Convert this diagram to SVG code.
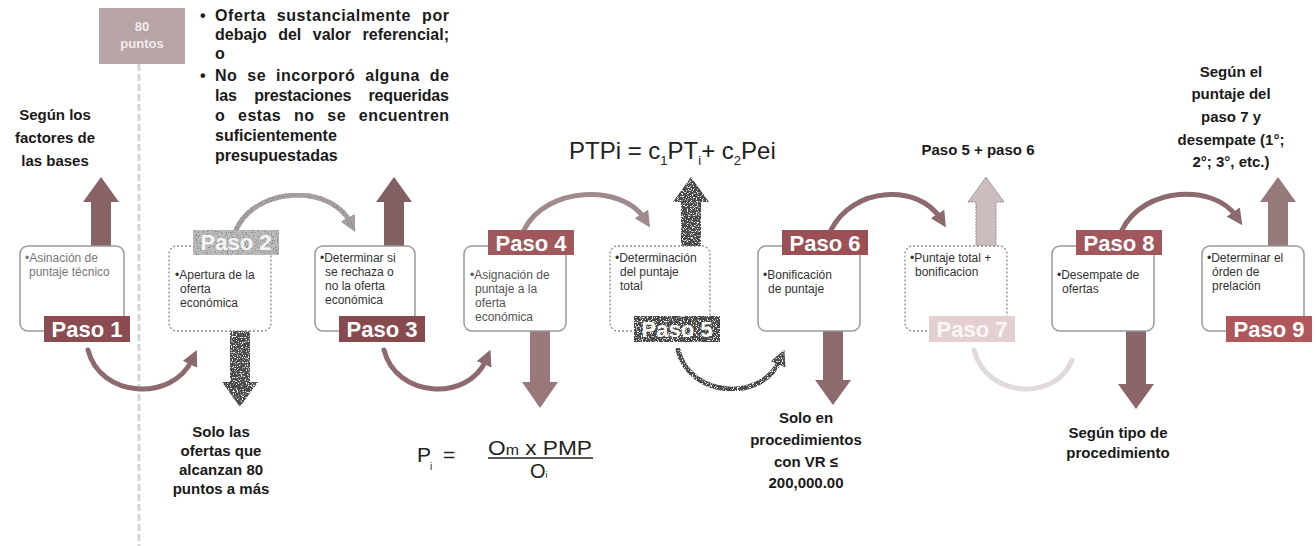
<svg xmlns="http://www.w3.org/2000/svg" width="1316" height="546" viewBox="0 0 1316 546">
<style>
text{font-family:"Liberation Sans",Arial,sans-serif}
.b{font-weight:bold;fill:#1a1a1a}
.t15{font-size:15px;font-weight:bold;fill:#1a1a1a;text-anchor:middle}
.bt{font-size:12px;fill:#333}
.box{fill:#fff;stroke:#9a9a9a;stroke-width:1.5}
.dbox{fill:#fff;stroke:#8a8a8a;stroke-width:1.3;stroke-dasharray:2 2}
.lbl{font-size:22px;font-weight:bold;fill:#fff;text-anchor:middle}
.arc{fill:none;stroke-width:5;stroke-linecap:round}
</style>
<defs>
<marker id="mA" viewBox="0 0 10 10" refX="3" refY="5" markerWidth="3.2" markerHeight="3.2" orient="auto"><path d="M0,0 L10,5 L0,10 z" fill="#8c6a6d"/></marker>
<marker id="mL" viewBox="0 0 10 10" refX="3" refY="5" markerWidth="3.2" markerHeight="3.2" orient="auto"><path d="M0,0 L10,5 L0,10 z" fill="#a08a8c"/></marker>
<marker id="mD" viewBox="0 0 10 10" refX="3" refY="5" markerWidth="3.2" markerHeight="3.2" orient="auto"><path d="M0,0 L10,5 L0,10 z" fill="#4a4a4a"/></marker>
<marker id="mP" viewBox="0 0 10 10" refX="3" refY="5" markerWidth="3.2" markerHeight="3.2" orient="auto"><path d="M0,0 L10,5 L0,10 z" fill="#a8a0a0"/></marker>
<filter id="lightSpeck" x="-5%" y="-5%" width="110%" height="110%">
<feTurbulence type="fractalNoise" baseFrequency="0.8" numOctaves="2" seed="5" result="n"/>
<feColorMatrix in="n" type="matrix" values="0 0 0 0 1  0 0 0 0 1  0 0 0 0 1  0 0 0 7 -3.9" result="s"/>
<feComposite in="s" in2="SourceGraphic" operator="in" result="sp"/>
<feMerge><feMergeNode in="SourceGraphic"/><feMergeNode in="sp"/></feMerge>
</filter>
<filter id="darkSpeck" x="-5%" y="-5%" width="110%" height="110%">
<feTurbulence type="fractalNoise" baseFrequency="0.8" numOctaves="2" seed="9" result="n"/>
<feColorMatrix in="n" type="matrix" values="0 0 0 0 0.25  0 0 0 0 0.25  0 0 0 0 0.25  0 0 0 7 -3.8" result="s"/>
<feComposite in="s" in2="SourceGraphic" operator="in" result="sp"/>
<feMerge><feMergeNode in="SourceGraphic"/><feMergeNode in="sp"/></feMerge>
</filter>
</defs>

<line x1="139" y1="64" x2="139" y2="546" stroke="#d6d6d6" stroke-width="3" stroke-dasharray="7 3"/>
<g id="puntos80">
<rect x="99" y="8" width="86" height="56" fill="#b7a4a6"/>
<text x="142" y="31" font-size="13" font-weight="bold" fill="#f2ecec" text-anchor="middle">80</text>
<text x="142" y="48" font-size="13" font-weight="bold" fill="#f2ecec" text-anchor="middle">puntos</text>
</g>

<g id="rechazo" class="b" font-size="16">
<text x="200" y="21">•</text>
<text x="215" y="21" word-spacing="6" textLength="234" lengthAdjust="spacing">Oferta sustancialmente por</text>
<text x="215" y="40" word-spacing="7" textLength="234" lengthAdjust="spacing">debajo del valor referencial;</text>
<text x="215" y="59">o</text>
<text x="200" y="81">•</text>
<text x="215" y="81" word-spacing="5" textLength="234" lengthAdjust="spacing">No se incorporó alguna de</text>
<text x="215" y="101" word-spacing="13" textLength="234" lengthAdjust="spacing">las prestaciones requeridas</text>
<text x="215" y="121" word-spacing="8" textLength="234" lengthAdjust="spacing">o estas no se encuentren</text>
<text x="215" y="141">suficientemente</text>
<text x="215" y="161">presupuestadas</text>
</g>

<g id="nota1">
<text class="t15" x="55" y="120">Según los</text>
<text class="t15" x="55" y="143">factores de</text>
<text class="t15" x="55" y="166">las bases</text>
</g>

<g id="formulaPTP">
<text x="569" y="159" font-size="24" fill="#222">PTPi = c<tspan font-size="13" dy="6">1</tspan><tspan dy="-6">PT</tspan><tspan font-size="13" dy="6">i</tspan><tspan dy="-6">+ c</tspan><tspan font-size="13" dy="6">2</tspan><tspan dy="-6">Pei</tspan></text>
</g>

<g id="nota7"><text class="t15" x="978" y="155">Paso 5 + paso 6</text></g>

<g id="nota9">
<text class="t15" x="1231" y="77">Según el</text>
<text class="t15" x="1231" y="99">puntaje del</text>
<text class="t15" x="1231" y="122">paso 7 y</text>
<text class="t15" x="1231" y="145">desempate (1°;</text>
<text class="t15" x="1231" y="167">2°; 3°, etc.)</text>
</g>

<g id="nota2">
<text class="t15" x="221" y="437">Solo las</text>
<text class="t15" x="221" y="456">ofertas que</text>
<text class="t15" x="221" y="475">alcanzan 80</text>
<text class="t15" x="221" y="494">puntos a más</text>
</g>

<g id="formulaP">
<text x="417" y="462" font-size="21" fill="#222">P</text>
<text x="430" y="470" font-size="10" fill="#222">i</text>
<text x="443" y="462" font-size="21" fill="#222">=</text>
<text x="488" y="455" font-size="20" fill="#222" textLength="104" lengthAdjust="spacingAndGlyphs">O<tspan font-size="14">m</tspan> x PMP</text>
<line x1="488" y1="458" x2="593" y2="458" stroke="#222" stroke-width="1.5"/>
<text x="530" y="478" font-size="20" fill="#222">O<tspan font-size="9">i</tspan></text>
</g>

<g id="nota6">
<text class="t15" x="806" y="423">Solo en</text>
<text class="t15" x="806" y="445">procedimientos</text>
<text class="t15" x="806" y="467">con VR ≤</text>
<text class="t15" x="806" y="488">200,000.00</text>
</g>

<g id="nota8">
<text class="t15" x="1118" y="438">Según tipo de</text>
<text class="t15" x="1118" y="458">procedimiento</text>
</g>

<g id="connectors">
<path d="M91,247 L91,202 L83,202 L101,177 L119,202 L111,202 L111,247 Z" fill="#876366"/>
<path d="M384,247 L384,202 L376,202 L394,177 L412,202 L404,202 L404,247 Z" fill="#806063"/>
<path d="M681,247 L681,202 L673,202 L691,177 L709,202 L701,202 L701,247 Z" fill="#4a4a4a" filter="url(#lightSpeck)"/>
<path d="M976,247 L976,202 L968,202 L986,177 L1004,202 L996,202 L996,247 Z" fill="#cbbcbe" stroke="#8a8a8a" stroke-width="1" stroke-dasharray="2 1"/>
<path d="M1268,247 L1268,202 L1260,202 L1278,177 L1296,202 L1288,202 L1288,247 Z" fill="#96797b"/>
<path d="M230,331 L230,382 L222,382 L240,407 L258,382 L250,382 L250,331 Z" fill="#4c4c4c" filter="url(#lightSpeck)"/>
<path d="M530,331 L530,382 L522,382 L540,408 L558,382 L550,382 L550,331 Z" fill="#9a777a"/>
<path d="M823,331 L823,380 L815,380 L833,405 L851,380 L843,380 L843,331 Z" fill="#8d6a6d"/>
<path d="M1126,331 L1126,384 L1118,384 L1136,409 L1154,384 L1146,384 L1146,331 Z" fill="#8c6568"/>
<path class="arc" d="M88,350 C100,398 172,402 192,360" stroke="#8c6a6d" marker-end="url(#mA)"/>
<path class="arc" d="M384,350 C396,398 468,402 486,360" stroke="#8c6a6d" marker-end="url(#mA)"/>
<path class="arc" d="M678,350 C690,398 762,402 780,360" stroke="#4a4a4a" marker-end="url(#mD)" filter="url(#lightSpeck)"/>
<path class="arc" d="M974,350 C986,398 1056,402 1072,360" stroke="#e2dada"/>
<path class="arc" d="M236,230 C256,186 330,184 350,222" stroke="#aaa2a2" stroke-width="4" stroke-dasharray="3 2" marker-end="url(#mP)" filter="url(#darkSpeck)"/>
<path class="arc" d="M524,230 C546,186 622,184 644,218" stroke="#a08a8c" marker-end="url(#mL)"/>
<path class="arc" d="M831,230 C853,186 919,184 940,218" stroke="#8c6a6d" marker-end="url(#mA)"/>
<path class="arc" d="M1122,230 C1144,186 1214,184 1236,216" stroke="#8c6a6d" marker-end="url(#mA)"/>
</g>

<g id="paso1">
<rect class="box" x="20" y="246" width="104" height="85" rx="8"/>
<text class="bt" x="25" y="262" style="fill:#777">•Asinación de</text>
<text class="bt" x="29" y="276" style="fill:#777">puntaje técnico</text>
<rect x="44" y="316" width="86" height="26" fill="#8b4c51"/>
<text class="lbl" x="87" y="337">Paso 1</text>
</g>

<g id="paso2">
<rect class="dbox" x="169" y="246" width="102" height="85" rx="8"/>
<text class="bt" x="175" y="279">•Apertura de la</text>
<text class="bt" x="180" y="293">oferta</text>
<text class="bt" x="180" y="307">económica</text>
<rect x="193" y="230" width="86" height="25" fill="#bcbcbc" filter="url(#darkSpeck)"/>
<text class="lbl" x="236" y="250" style="fill:#f4f4f4">Paso 2</text>
</g>

<g id="paso3">
<rect class="box" x="315" y="246" width="100" height="85" rx="8"/>
<text class="bt" x="320" y="262">•Determinar  si</text>
<text class="bt" x="325" y="276">se rechaza o</text>
<text class="bt" x="325" y="290">no la oferta</text>
<text class="bt" x="325" y="304">económica</text>
<rect x="339" y="316" width="86" height="26" fill="#874a4f"/>
<text class="lbl" x="382" y="337">Paso 3</text>
</g>

<g id="paso4">
<rect class="box" x="464" y="246" width="102" height="85" rx="8"/>
<text class="bt" x="470" y="279" style="fill:#555">•Asignación de</text>
<text class="bt" x="475" y="293" style="fill:#555">puntaje a la</text>
<text class="bt" x="475" y="307" style="fill:#555">oferta</text>
<text class="bt" x="475" y="321" style="fill:#555">económica</text>
<rect x="488" y="230" width="86" height="25" fill="#a0585d"/>
<text class="lbl" x="531" y="251">Paso 4</text>
</g>

<g id="paso5">
<rect class="dbox" x="610" y="246" width="100" height="85" rx="8"/>
<text class="bt" x="615" y="262">•Determinación</text>
<text class="bt" x="620" y="276">del puntaje</text>
<text class="bt" x="620" y="290">total</text>
<rect x="634" y="316" width="86" height="26" fill="#474747" filter="url(#lightSpeck)"/>
<text class="lbl" x="677" y="337">Paso 5</text>
</g>

<g id="paso6">
<rect class="box" x="758" y="246" width="102" height="85" rx="8"/>
<text class="bt" x="763" y="279">•Bonificación</text>
<text class="bt" x="768" y="293">de puntaje</text>
<rect x="782" y="230" width="86" height="25" fill="#9b5055"/>
<text class="lbl" x="825" y="251">Paso 6</text>
</g>

<g id="paso7">
<rect class="dbox" x="905" y="246" width="102" height="85" rx="8"/>
<text class="bt" x="910" y="262">•Puntaje total +</text>
<text class="bt" x="915" y="276">bonificacion</text>
<rect x="929" y="316" width="86" height="26" fill="#e4d0d1"/>
<text class="lbl" x="972" y="337" style="fill:#fbf6f6">Paso 7</text>
</g>

<g id="paso8">
<rect class="box" x="1052" y="246" width="102" height="85" rx="8"/>
<text class="bt" x="1057" y="279">•Desempate de</text>
<text class="bt" x="1062" y="293">ofertas</text>
<rect x="1076" y="230" width="86" height="25" fill="#a2575c"/>
<text class="lbl" x="1119" y="251">Paso 8</text>
</g>

<g id="paso9">
<rect class="box" x="1202" y="246" width="102" height="85" rx="8"/>
<text class="bt" x="1207" y="262">•Determinar el</text>
<text class="bt" x="1212" y="276">órden de</text>
<text class="bt" x="1212" y="290">prelación</text>
<rect x="1226" y="316" width="86" height="26" fill="#b0575b"/>
<text class="lbl" x="1269" y="337">Paso 9</text>
</g>
</svg>
